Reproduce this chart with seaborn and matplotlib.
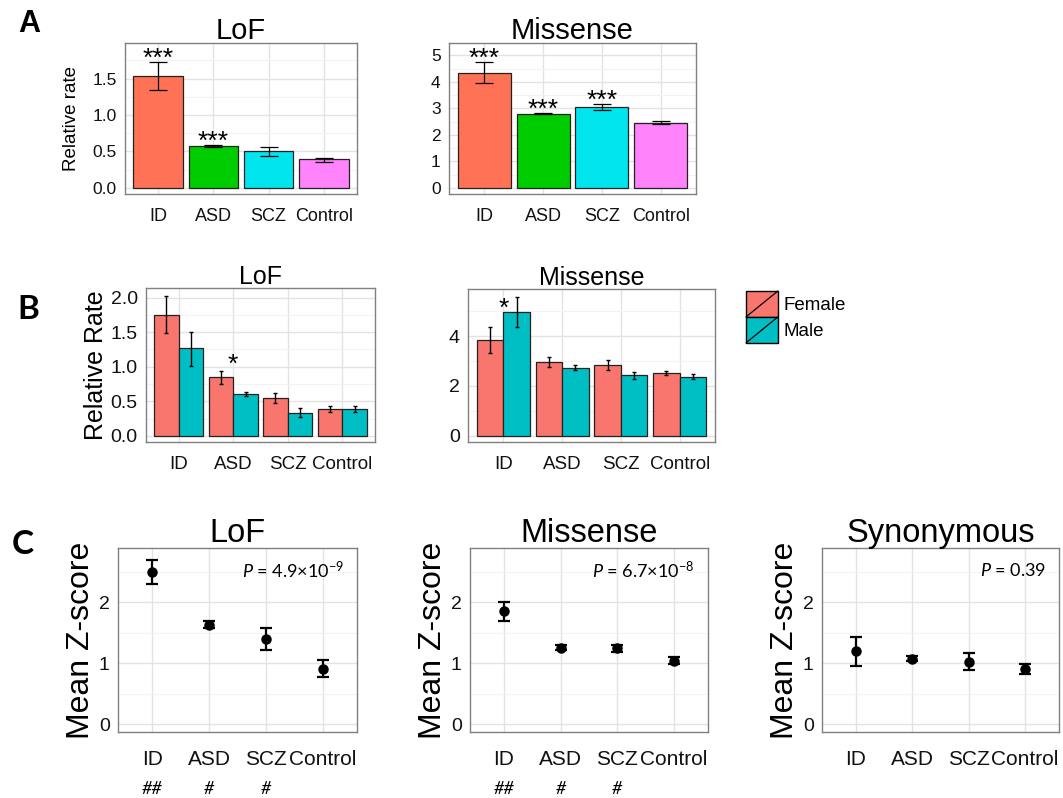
import matplotlib
matplotlib.use('Agg')
import numpy as np
import pandas as pd
import matplotlib.pyplot as plt
import seaborn as sns
from matplotlib.ticker import MultipleLocator
from matplotlib.legend_handler import HandlerBase
from matplotlib.patches import Rectangle, Patch
from matplotlib.lines import Line2D

groups = ['ID', 'ASD', 'SCZ', 'Control']

# Panel A: relative rate of de novo mutations
a_lof_rate = [1.54, 0.57, 0.50, 0.39]
a_lof_lo = [1.35, 0.56, 0.44, 0.36]
a_lof_hi = [1.73, 0.59, 0.56, 0.41]
a_lof_stars = ['***', '***', '', '']
a_mis_rate = [4.35, 2.80, 3.05, 2.46]
a_mis_lo = [3.97, 2.78, 2.93, 2.42]
a_mis_hi = [4.75, 2.83, 3.17, 2.52]
a_mis_stars = ['***', '***', '***', '']
a_colors = ['#FF7256', '#00CD00', '#00E5EE', '#FF83FA']

# Panel B: split by sex
sexes = ['Female', 'Male']
b_colors = ['#F8766D', '#00BFC4']
b_lof_female = [1.75, 0.85, 0.54, 0.39]
b_lof_female_lo = [1.49, 0.75, 0.47, 0.35]
b_lof_female_hi = [2.02, 0.94, 0.62, 0.43]
b_lof_male = [1.27, 0.60, 0.33, 0.39]
b_lof_male_lo = [1.01, 0.57, 0.27, 0.35]
b_lof_male_hi = [1.51, 0.64, 0.40, 0.43]
b_lof_stars = ['', '*', '', '']
b_lof_star_y = [0, 0.93, 0, 0]
b_mis_female = [3.83, 2.95, 2.86, 2.53]
b_mis_female_lo = [3.33, 2.75, 2.65, 2.45]
b_mis_female_hi = [4.35, 3.17, 3.05, 2.62]
b_mis_male = [4.97, 2.74, 2.45, 2.37]
b_mis_male_lo = [4.35, 2.65, 2.30, 2.27]
b_mis_male_hi = [5.58, 2.83, 2.58, 2.48]
b_mis_stars = ['*', '', '', '']
b_mis_star_y = [4.8, 0, 0, 0]

# Panel C: mean Z-score
c_lof_mean = [2.50, 1.63, 1.40, 0.90]
c_lof_lo = [2.30, 1.57, 1.22, 0.77]
c_lof_hi = [2.70, 1.69, 1.58, 1.05]
c_mis_mean = [1.85, 1.25, 1.25, 1.04]
c_mis_lo = [1.70, 1.21, 1.19, 0.98]
c_mis_hi = [2.00, 1.29, 1.30, 1.10]
c_syn_mean = [1.20, 1.07, 1.02, 0.90]
c_syn_lo = [0.95, 1.03, 0.89, 0.83]
c_syn_hi = [1.43, 1.11, 1.17, 0.99]
c_hash = ['##', '#', '#', '']
c_pvals = [r'$\mathit{P}$ = 4.9×10$^{\mathsf{-9}}$', r'$\mathit{P}$ = 6.7×10$^{\mathsf{-8}}$', r'$\mathit{P}$ = 0.39']

sns.set_style('white')
plt.rcParams['font.family'] = ['Liberation Sans', 'DejaVu Sans']
plt.rcParams['text.color'] = 'black'
plt.rcParams['axes.labelcolor'] = 'black'
plt.rcParams['mathtext.fontset'] = 'custom'
plt.rcParams['mathtext.rm'] = 'Lato'
plt.rcParams['mathtext.it'] = 'Lato:italic'
plt.rcParams['mathtext.sf'] = 'Lato'

W, H = 1063, 798
fig = plt.figure(figsize=(W / 100, H / 100), dpi=100)


def add_ax(x0, y0, x1, y1):
    return fig.add_axes([x0 / W, 1 - y1 / H, (x1 - x0) / W, (y1 - y0) / H])


def style(ax, ylim, major, minor, tsize, xsize, xpad=2):
    ax.set_xlim(-0.6, 3.6)
    ax.set_ylim(*ylim)
    ax.yaxis.set_major_locator(MultipleLocator(major))
    ax.yaxis.set_minor_locator(MultipleLocator(minor))
    ax.grid(True, which='major', color='#E3E3E3', lw=1)
    ax.grid(True, which='minor', axis='y', color='#F3F3F3', lw=0.8)
    ax.set_axisbelow(True)
    for s in ax.spines.values():
        s.set_visible(True)
        s.set_color('#808080')
        s.set_linewidth(1)
    ax.tick_params(which='major', length=4, width=1, color='#333333', pad=2)
    ax.tick_params(which='minor', length=0)
    ax.tick_params(axis='y', labelsize=tsize, labelcolor='#111111')
    ax.tick_params(axis='x', labelsize=xsize, labelcolor='#111111', pad=xpad)
    ax.set_xlabel('')
    ax.set_ylabel('')


# ---- Panel A
def panel_a(ax, rate, lo, hi, stars, title, ylim, major, minor):
    sns.barplot(x=groups, y=rate, hue=groups, palette=a_colors, legend=False, saturation=1,
                width=0.9, edgecolor='#222222', linewidth=0.9, ax=ax)
    r = np.array(rate)
    ax.errorbar(np.arange(len(groups)), r, yerr=[r - np.array(lo), np.array(hi) - r],
                fmt='none', ecolor='black', elinewidth=0.9, capsize=6.5, capthick=0.9)
    for i, s in enumerate(stars):
        if s:
            ax.annotate(s, (i, hi[i]), xytext=(0, -3), textcoords='offset points',
                        ha='center', va='baseline', fontsize=19)
    style(ax, ylim, major, minor, 12.5, 13, xpad=6)
    ax.set_title(title, fontsize=21, pad=3)


ax1 = add_ax(125, 43, 357, 194)
panel_a(ax1, a_lof_rate, a_lof_lo, a_lof_hi, a_lof_stars, 'LoF', (-0.085, 1.99), 0.5, 0.25)
ax1.set_ylabel('Relative rate', fontsize=13.5, labelpad=9)

ax2 = add_ax(449, 43, 696, 194)
panel_a(ax2, a_mis_rate, a_mis_lo, a_mis_hi, a_mis_stars, 'Missense', (-0.23, 5.47), 1, 0.5)


# ---- Panel B
def panel_b(ax, fem, fem_lo, fem_hi, mal, mal_lo, mal_hi, stars, star_y, title, ylim, major, minor):
    df = pd.DataFrame({
        'group': groups * 2,
        'sex': [sexes[0]] * 4 + [sexes[1]] * 4,
        'rate': fem + mal,
    })
    sns.barplot(data=df, x='group', y='rate', hue='sex', palette=b_colors, width=0.9,
                saturation=1, edgecolor='#222222', linewidth=0.9, legend=False, ax=ax)
    x = np.arange(len(groups))
    for off, v, lo, hi in [(-0.225, fem, fem_lo, fem_hi), (0.225, mal, mal_lo, mal_hi)]:
        v = np.array(v)
        ax.errorbar(x + off, v, yerr=[v - np.array(lo), np.array(hi) - v], fmt='none',
                    ecolor='black', elinewidth=1, capsize=1.3, capthick=1)
    for i, s in enumerate(stars):
        if s:
            ax.annotate(s, (i, star_y[i]), ha='center', va='baseline', fontsize=19)
    style(ax, ylim, major, minor, 14, 13.5, xpad=6)
    ax.set_title(title, fontsize=18, pad=3)


ax3 = add_ax(146, 288, 375, 442)
panel_b(ax3, b_lof_female, b_lof_female_lo, b_lof_female_hi, b_lof_male, b_lof_male_lo,
        b_lof_male_hi, b_lof_stars, b_lof_star_y, 'LoF', (-0.09, 2.14), 0.5, 0.25)
ax3.set_ylabel('Relative Rate', fontsize=18, labelpad=2)

ax4 = add_ax(468, 289, 715, 442)
panel_b(ax4, b_mis_female, b_mis_female_lo, b_mis_female_hi, b_mis_male, b_mis_male_lo,
        b_mis_male_hi, b_mis_stars, b_mis_star_y, 'Missense', (-0.24, 5.88), 2, 1)


class DiagHandler(HandlerBase):
    def create_artists(self, legend, orig_handle, xd, yd, w, h, fontsize, trans):
        r = Rectangle((-xd, -yd), w, h, facecolor=orig_handle.get_facecolor(),
                      edgecolor='black', lw=1, transform=trans)
        ln = Line2D([-xd, -xd + w], [-yd, -yd + h], color='black', lw=0.9, transform=trans)
        return [r, ln]


handles = [Patch(facecolor=c) for c in b_colors]
fig.legend(handles, sexes, loc='upper left', bbox_to_anchor=(746 / W, 1 - 291 / H),
           frameon=False, fontsize=13.5, handlelength=1.7, handleheight=1.75,
           labelspacing=0, handletextpad=0.3, borderpad=0, borderaxespad=0,
           handler_map={Patch: DiagHandler()})


# ---- Panel C
def panel_c(ax, mean, lo, hi, hashes, pval, title):
    sns.pointplot(x=groups, y=mean, color='black', linestyle='none', errorbar=None,
                  markersize=5.5, ax=ax)
    m = np.array(mean)
    ax.errorbar(np.arange(len(groups)), m, yerr=[m - np.array(lo), np.array(hi) - m],
                fmt='none', ecolor='black', elinewidth=1.6, capsize=4, capthick=1.6)
    style(ax, (-0.13, 2.89), 1, 0.5, 14, 15, xpad=9)
    ax.set_title(title, fontsize=23.5, pad=4)
    ax.set_ylabel('Mean Z-score', fontsize=23, labelpad=2)
    ax.text(0.945, 0.88, pval, transform=ax.transAxes, ha='right', va='center',
            fontsize=13, family='Lato')
    for i, h in enumerate(hashes):
        if h:
            ax.text(i, -0.31, h, transform=ax.get_xaxis_transform(), ha='center',
                    va='center', fontsize=13, family='Lato', style='italic')


ax5 = add_ax(118, 548, 357, 732)
panel_c(ax5, c_lof_mean, c_lof_lo, c_lof_hi, c_hash, c_pvals[0], 'LoF')
ax6 = add_ax(470, 548, 708, 732)
panel_c(ax6, c_mis_mean, c_mis_lo, c_mis_hi, c_hash, c_pvals[1], 'Missense')
ax7 = add_ax(822, 548, 1059, 732)
panel_c(ax7, c_syn_mean, c_syn_lo, c_syn_hi, ['', '', '', ''], c_pvals[2], 'Synonymous')

# panel letters
fig.text(29 / W, 1 - 24 / H, 'A', fontsize=22, fontweight='bold', ha='center', va='center')
fig.text(28 / W, 1 - 309 / H, 'B', fontsize=24, fontweight='bold', ha='center', va='center', family='Lato')
fig.text(23 / W, 1 - 545 / H, 'C', fontsize=24, fontweight='bold', ha='center', va='center', family='Lato')

fig.savefig('out.png', dpi=100)
